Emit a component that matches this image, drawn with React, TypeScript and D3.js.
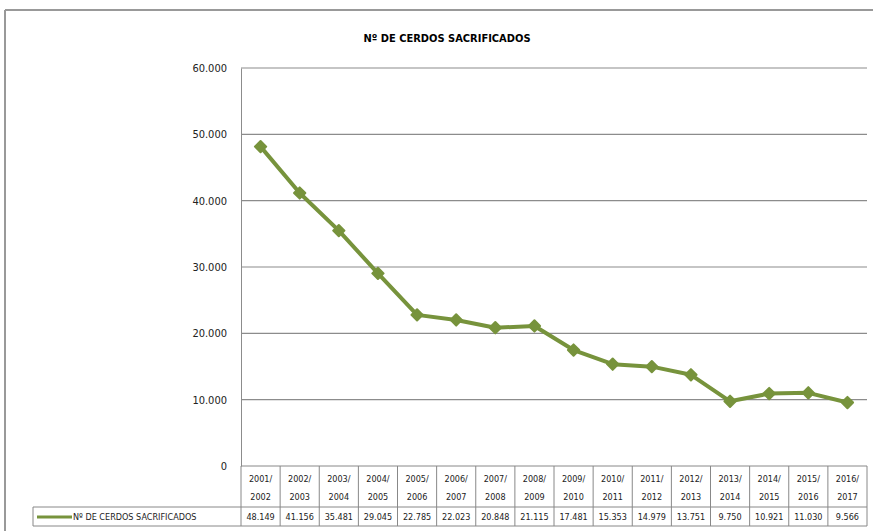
import React, { useRef, useEffect } from 'react';
import * as d3 from 'd3';

const categories = [
  '2001/2002', '2002/2003', '2003/2004', '2004/2005', '2005/2006', '2006/2007',
  '2007/2008', '2008/2009', '2009/2010', '2010/2011', '2011/2012', '2012/2013',
  '2013/2014', '2014/2015', '2015/2016', '2016/2017',
];
const sacrificados = [
  48149, 41156, 35481, 29045, 22785, 22023, 20848, 21115, 17481, 15353, 14979,
  13751, 9750, 10921, 11030, 9566,
];
const yTicks = [0, 10000, 20000, 30000, 40000, 50000, 60000];
const seriesName = 'Nº DE CERDOS SACRIFICADOS';
const title = 'Nº DE CERDOS SACRIFICADOS';

const App: React.FC = () => {
  const svgRef = useRef<SVGSVGElement | null>(null);

  useEffect(() => {
    if (!svgRef.current) return;
    const W = 873;
    const H = 531;
    const svg = d3.select(svgRef.current).attr('width', W).attr('height', H);
    svg.selectAll('*').remove();

    const font = '"Liberation Sans Narrow", "DejaVu Sans Condensed", sans-serif';
    const green = '#77933C';
    const left = 241;
    const right = 867;
    const top = 68;
    const bottom = 466;

    const fmt = (v: number) => d3.format(',')(v).replace(/,/g, '.');

    // outer chart frame (right and bottom edges fall outside the picture)
    svg.append('line').attr('x1', 5).attr('x2', W).attr('y1', 10).attr('y2', 10)
      .attr('stroke', '#999').attr('stroke-width', 2);
    svg.append('line').attr('x1', 5).attr('x2', 5).attr('y1', 10).attr('y2', H)
      .attr('stroke', '#999').attr('stroke-width', 2);

    const x = d3.scaleBand<string>().domain(categories).range([left, right]);
    const y = d3.scaleLinear().domain([0, 60000]).range([bottom, top]);

    svg.append('text')
      .attr('x', 447).attr('y', 42)
      .attr('text-anchor', 'middle')
      .attr('font-family', font).attr('font-weight', 'bold').attr('font-size', 11)
      .text(title);

    // gridlines
    svg.append('g')
      .selectAll('line')
      .data(yTicks.filter((t) => t > 0))
      .join('line')
      .attr('x1', left).attr('x2', right)
      .attr('y1', (d) => y(d)).attr('y2', (d) => y(d))
      .attr('stroke', '#8c8c8c').attr('stroke-width', 1.2);

    // y axis
    const yAxis = d3.axisLeft(y).tickValues(yTicks).tickSize(0).tickPadding(14).tickFormat((d) => fmt(Number(d)));
    const ya = svg.append('g').attr('transform', `translate(${left},0)`).call(yAxis);
    ya.select('.domain').attr('stroke', '#8c8c8c');
    ya.selectAll('text').attr('font-family', font).attr('font-size', 11).attr('fill', '#222');

    // data table
    const rowTop = bottom;
    const rowMid = 507;
    const rowBot = 526;
    const tbl = svg.append('g').attr('stroke', '#888').attr('stroke-width', 1).attr('fill', 'none');
    tbl.append('line').attr('x1', left).attr('x2', right).attr('y1', rowTop).attr('y2', rowTop);
    tbl.append('line').attr('x1', 33).attr('x2', right).attr('y1', rowMid).attr('y2', rowMid);
    tbl.append('line').attr('x1', 33).attr('x2', right).attr('y1', rowBot).attr('y2', rowBot);
    tbl.append('line').attr('x1', 33).attr('x2', 33).attr('y1', rowMid).attr('y2', rowBot);
    tbl.selectAll('line.col')
      .data(categories)
      .join('line')
      .attr('class', 'col')
      .attr('x1', (d) => (x(d) as number) + x.bandwidth())
      .attr('x2', (d) => (x(d) as number) + x.bandwidth())
      .attr('y1', rowTop).attr('y2', rowBot);
    tbl.append('line').attr('x1', left).attr('x2', left).attr('y1', rowTop).attr('y2', rowBot);

    const catG = svg.append('g').attr('font-family', font).attr('font-size', 9).attr('fill', '#222').attr('text-anchor', 'middle');
    categories.forEach((c) => {
      const cx = (x(c) as number) + x.bandwidth() / 2;
      const [a, b] = c.split('/');
      catG.append('text').attr('x', cx).attr('y', 482).text(a + '/');
      catG.append('text').attr('x', cx).attr('y', 500).text(b);
    });

    const valG = svg.append('g').attr('font-family', font).attr('font-size', 9).attr('fill', '#222').attr('text-anchor', 'middle');
    sacrificados.forEach((v, i) => {
      const cx = (x(categories[i]) as number) + x.bandwidth() / 2;
      valG.append('text').attr('x', cx).attr('y', 520).text(fmt(v));
    });

    // legend key in table
    svg.append('line')
      .attr('x1', 37).attr('x2', 72).attr('y1', 517).attr('y2', 517)
      .attr('stroke', green).attr('stroke-width', 3);
    svg.append('text')
      .attr('x', 73).attr('y', 520)
      .attr('font-family', font).attr('font-size', 9).attr('fill', '#222')
      .text(seriesName);

    // series line
    const line = d3.line<number>()
      .x((_, i) => (x(categories[i]) as number) + x.bandwidth() / 2)
      .y((d) => y(d));
    svg.append('path')
      .datum(sacrificados)
      .attr('d', line)
      .attr('fill', 'none')
      .attr('stroke', green)
      .attr('stroke-width', 4)
      .attr('stroke-linejoin', 'round');

    const diamond = d3.symbol().type(d3.symbolSquare).size(64);
    svg.append('g')
      .selectAll('path')
      .data(sacrificados)
      .join('path')
      .attr('d', diamond)
      .attr('transform', (d, i) => `translate(${(x(categories[i]) as number) + x.bandwidth() / 2},${y(d)}) rotate(45)`)
      .attr('fill', green)
      .attr('stroke', green)
      .attr('stroke-width', 2)
      .attr('stroke-linejoin', 'round');
  }, []);

  return (
    <div style={{ position: 'absolute', left: 0, top: 0, width: 873, height: 531, overflow: 'hidden' }}>
      <svg ref={svgRef} style={{ display: 'block' }}></svg>
    </div>
  );
};

export default App;
